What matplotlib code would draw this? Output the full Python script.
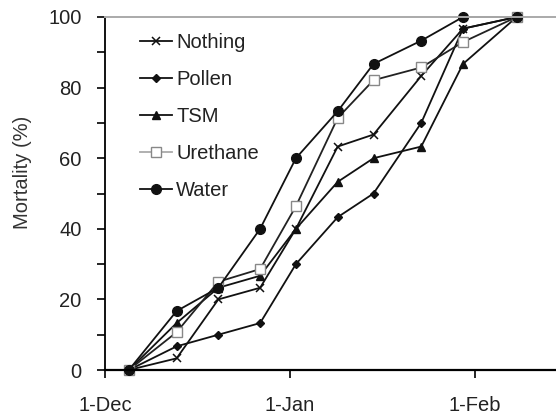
import datetime as dt
import matplotlib
matplotlib.use("Agg")
import matplotlib.pyplot as plt

plt.rcParams["font.family"] = ["Liberation Sans", "DejaVu Sans"]

dates = ["2008-12-05", "2008-12-13", "2008-12-20", "2008-12-27", "2009-01-02",
         "2009-01-09", "2009-01-15", "2009-01-23", "2009-01-30", "2009-02-08"]
nothing = [0, 3.3, 20, 23.3, 40, 63.3, 66.7, 83.3, 96.7, 100]
pollen = [0, 6.7, 10, 13.3, 30, 43.3, 50, 70, 96.7, 100]
tsm = [0, 13.3, 23.3, 26.7, 40, 53.3, 60, 63.3, 86.7, 100]
urethane = [0, 10.7, 25, 28.6, 46.4, 71.4, 82.1, 85.7, 92.9, 100]
water = [0, 16.7, 23.3, 40, 60, 73.3, 86.7, 93.3, 100, 100]
month_ticks = ["2008-12-01", "2009-01-01", "2009-02-01"]

x = [dt.datetime.strptime(d, "%Y-%m-%d") for d in dates]
xt = [dt.datetime.strptime(d, "%Y-%m-%d") for d in month_ticks]

fig = plt.figure(figsize=(5.56, 4.18), dpi=100)
ax = fig.add_axes([105 / 556, 48 / 418, 537 / 556, 353 / 418])

lw = 1.3
ax.plot(x, nothing, color="#111", lw=lw, marker="x", ms=6, mew=1.1, label="Nothing", clip_on=False)
ax.plot(x, pollen, color="#111", lw=lw, marker="D", ms=4.5, label="Pollen", clip_on=False)
ax.plot(x, tsm, color="#111", lw=lw, marker="^", ms=6, label="TSM", clip_on=False)
ax.plot(x, urethane, color="#222", lw=lw, marker="s", ms=7, mfc="white", mec="#888",
        mew=1.0, label="Urethane", clip_on=False)
ax.plot(x, water, color="#111", lw=lw, marker="o", ms=7, label="Water", clip_on=False)

ax.set_ylim(0, 100)
ax.set_xlim(dt.datetime(2008, 12, 1), dt.datetime(2009, 3, 1))
ax.set_yticks(range(0, 101, 20))
ax.set_yticks(range(10, 100, 20), minor=True)
ax.set_xticks(xt)
ax.set_xticklabels(["{}-{}".format(d.day, d.strftime("%b")) for d in xt])
ax.tick_params(axis="both", which="both", direction="out", length=6, width=1.2,
               labelsize=14.5, labelcolor="#222")
ax.tick_params(axis="y", pad=11)
ax.tick_params(axis="x", pad=12.5)

ax.spines["right"].set_visible(False)
ax.spines["top"].set_color("#aaaaaa")
ax.spines["top"].set_linewidth(1.4)
ax.spines["left"].set_linewidth(1.3)
ax.spines["bottom"].set_linewidth(1.6)

fig.text(23 / 556, 1 - 172 / 418, "Mortality (%)", rotation=90, ha="center", va="center",
         fontsize=14.5, color="#333")

leg = ax.legend(loc="upper left", bbox_to_anchor=(35 / 537, 1 - 16 / 353), frameon=False,
                fontsize=14.5, handlelength=1.6, handletextpad=0.2, labelspacing=0.9,
                borderpad=0, borderaxespad=0)
leg.get_lines()[3].set_color("#aaaaaa")
for t in leg.get_texts():
    t.set_color("#222")

fig.savefig("out.png", dpi=100)
